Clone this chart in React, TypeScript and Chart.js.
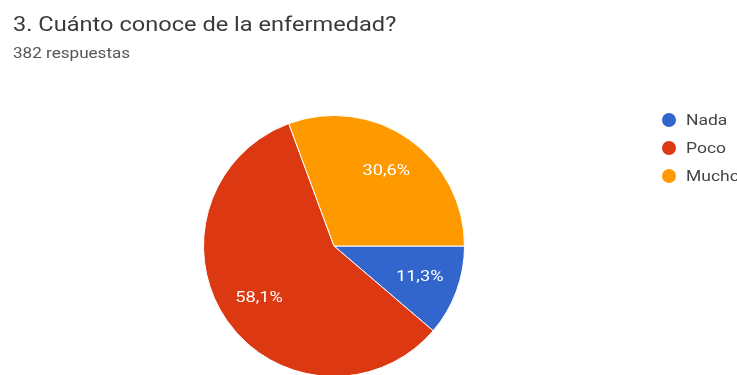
import React, { useEffect, useRef } from "react";
import { Chart, registerables } from "chart.js";

Chart.register(...registerables);

const categories = ["Nada", "Poco", "Mucho"];
const counts = [43, 222, 117];
const colors = ["#3366cc", "#dc3912", "#ff9900"];
const titleText = "3. Cuánto conoce de la enfermedad?";
const subtitleText = "382 respuestas";

const pctLabels = {
  id: "pctLabels",
  afterDatasetsDraw(chart: any) {
    const ctx = chart.ctx;
    const meta = chart.getDatasetMeta(0);
    const total = counts.reduce((a, b) => a + b, 0);
    meta.data.forEach((arc: any, i: number) => {
      const p = arc.getProps(["x", "y", "startAngle", "endAngle", "outerRadius"], true);
      const mid = (p.startAngle + p.endAngle) / 2;
      const d = p.outerRadius * 0.7;
      const txt = ((counts[i] / total) * 100).toFixed(1).replace(".", ",") + "%";
      const tx = p.x + Math.cos(mid) * d;
      const ty = p.y + Math.sin(mid) * d;
      ctx.save();
      ctx.translate(tx, ty);
      ctx.scale(1.3, 1);
      ctx.fillStyle = "#ffffff";
      ctx.font = "14px Roboto";
      ctx.textAlign = "center";
      ctx.textBaseline = "middle";
      ctx.fillText(txt, 0, 0);
      ctx.restore();
    });
  },
};

export default function App() {
  const ref = useRef<HTMLCanvasElement>(null);
  useEffect(() => {
    const chart = new Chart(ref.current!, {
      type: "pie",
      data: {
        labels: categories,
        datasets: [
          {
            data: counts,
            backgroundColor: colors,
            borderColor: "#ffffff",
            borderWidth: 1,
          },
        ],
      },
      options: {
        animation: false,
        responsive: false,
        rotation: 90,
        layout: { padding: { left: 203, right: 272, top: 115, bottom: 0 } },
        plugins: {
          legend: { display: false },
          tooltip: { enabled: false },
          title: { display: false },
        },
      },
      plugins: [pctLabels],
    });
    return () => chart.destroy();
  }, []);

  return (
    <div
      style={{
        position: "fixed",
        left: 0,
        top: 0,
        width: 737,
        height: 375,
        overflow: "hidden",
        background: "#fff",
        fontFamily: "Roboto, sans-serif",
      }}
    >
      <canvas
        ref={ref}
        width={737}
        height={377}
        style={{ position: "absolute", left: 0, top: 0, width: 737, height: 377 }}
      />
      <div
        style={{
          position: "absolute",
          left: 13,
          top: 12,
          fontSize: 20,
          color: "#3a3a3a",
          whiteSpace: "nowrap",
          transform: "scaleX(1.18)",
          transformOrigin: "0 0",
        }}
      >
        {titleText}
      </div>
      <div
        style={{
          position: "absolute",
          left: 13,
          top: 45,
          fontSize: 14,
          color: "#555",
          whiteSpace: "nowrap",
          transform: "scaleX(1.22)",
          transformOrigin: "0 0",
        }}
      >
        {subtitleText}
      </div>
      {categories.map((c, i) => (
        <div
          key={c}
          style={{
            position: "absolute",
            left: 662,
            top: 113 + i * 28,
            height: 14,
            display: "flex",
            alignItems: "center",
            whiteSpace: "nowrap",
          }}
        >
          <span
            style={{
              display: "inline-block",
              width: 14,
              height: 14,
              borderRadius: "50%",
              background: colors[i],
            }}
          />
          <span
            style={{
              marginLeft: 10,
              fontSize: 14,
              color: "#444",
              display: "inline-block",
              transform: "scaleX(1.25)",
              transformOrigin: "0 50%",
            }}
          >
            {c}
          </span>
        </div>
      ))}
    </div>
  );
}
